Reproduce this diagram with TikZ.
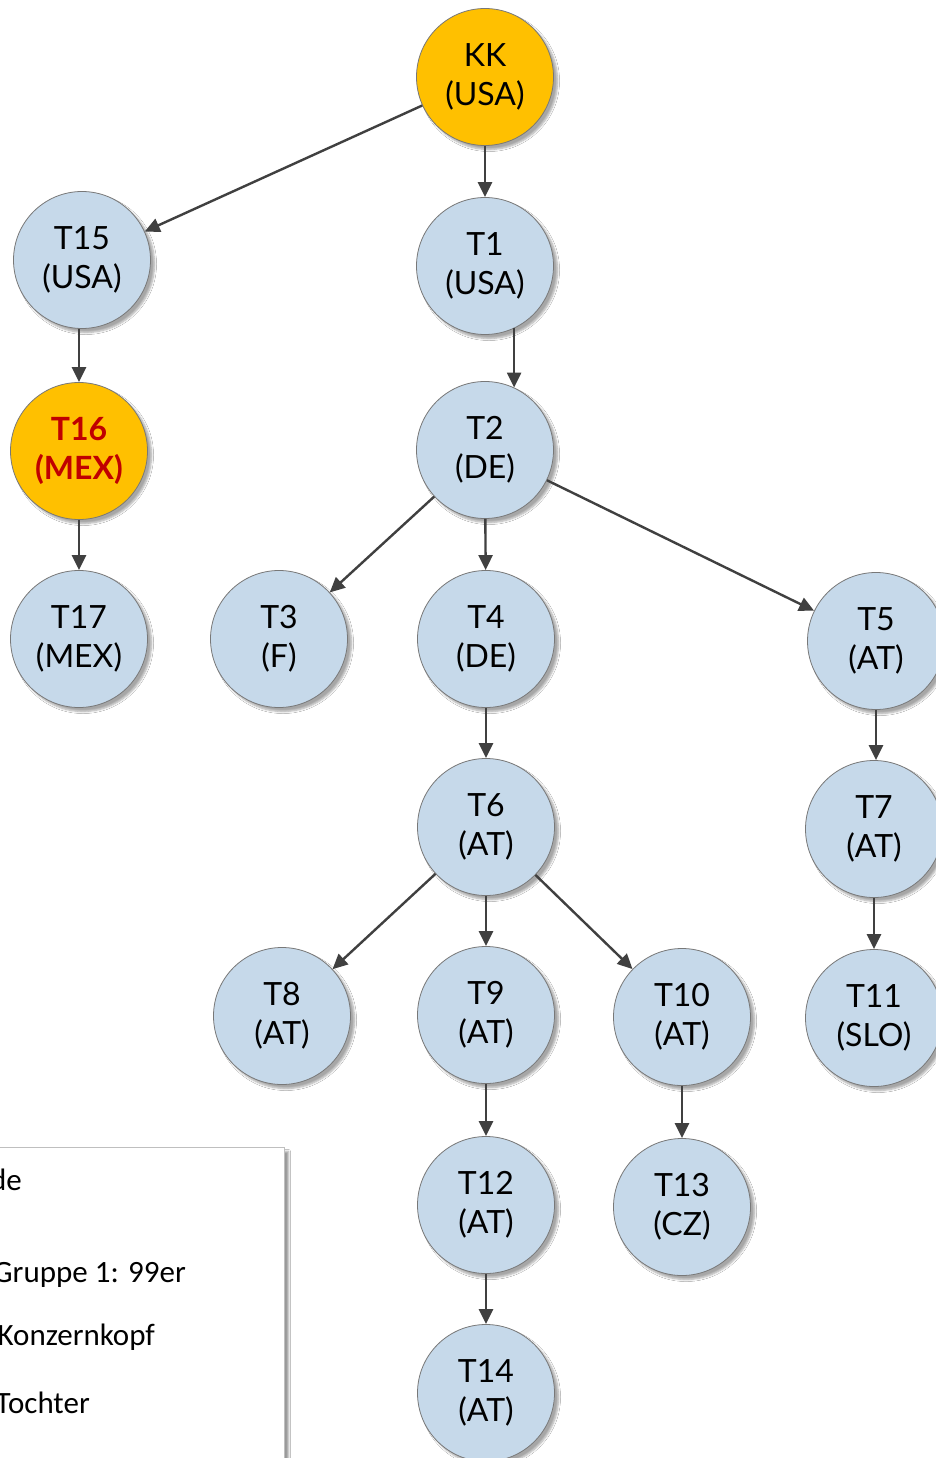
\documentclass[tikz,border=0pt]{standalone}
\usepackage{fontspec}
\setmainfont{Lato}
\newfontfamily\legfont{Carlito}
\usetikzlibrary{arrows.meta,shadows.blur}
\definecolor{nodeblue}{RGB}{198,217,234}
\definecolor{nodeorange}{RGB}{255,192,0}
\definecolor{edgegray}{RGB}{64,64,64}
\definecolor{rimgray}{RGB}{120,120,120}
\definecolor{darkred}{RGB}{192,0,0}
\tikzset{
  co/.style={circle, minimum size=137pt, inner sep=0pt, draw=rimgray, line width=0.8pt,
    fill=nodeblue, align=center, font=\fontsize{32}{39}\selectfont,
    blur shadow={shadow xshift=4pt, shadow yshift=-4pt, shadow blur steps=6, shadow opacity=35}},
  head/.style={co, fill=nodeorange},
  arr/.style={draw=edgegray, line width=2.4pt, -{Triangle[length=15pt,width=14pt]}},
  legtext/.style={anchor=base east, inner sep=0pt, font=\legfont\fontsize{31}{37}\selectfont}
}
\begin{document}
\begin{tikzpicture}[x=1pt,y=-1pt]
\useasboundingbox (0,0) rectangle (936,1458);
\clip (0,0) rectangle (936,1458);
\fill[white] (0,0) rectangle (936,1458);
% legend
\node[draw=black!25, line width=1pt, fill=white, minimum width=310pt, minimum height=330pt,
  inner sep=0pt, anchor=north east,
  blur shadow={shadow xshift=4pt, shadow yshift=-4pt, shadow blur steps=4, shadow opacity=40}]
  (legend) at (285,1147) {};
\node[legtext] (l0) at (22,1190) {Legende};
\node[legtext] (l1) at (186,1282) {Gruppe 1: 99er};
\node[legtext] (l2) at (155,1345) {Konzernkopf};
\node[legtext] (l3) at (90,1413) {Tochter};
% nodes
\node[head] (KK) at (485,77) {KK\\(USA)};
\node[co] (T15) at (82,260) {T15\\(USA)};
\node[co] (T1) at (485,266) {T1\\(USA)};
\node[head, font=\bfseries\fontsize{32}{39}\selectfont, text=darkred] (T16) at (79,451) {T16\\(MEX)};
\node[co] (T2) at (485,450) {T2\\(DE)};
\node[co] (T17) at (79,639) {T17\\(MEX)};
\node[co] (T3) at (279,639) {T3\\(F)};
\node[co] (T4) at (486,639) {T4\\(DE)};
\node[co] (T5) at (876,641) {T5\\(AT)};
\node[co] (T6) at (486,827) {T6\\(AT)};
\node[co] (T7) at (874,829) {T7\\(AT)};
\node[co] (T8) at (282,1016) {T8\\(AT)};
\node[co] (T9) at (486,1015) {T9\\(AT)};
\node[co] (T10) at (682,1017) {T10\\(AT)};
\node[co] (T11) at (874,1018) {T11\\(SLO)};
\node[co] (T12) at (486,1205) {T12\\(AT)};
\node[co] (T13) at (682,1207) {T13\\(CZ)};
\node[co] (T14) at (486,1393) {T14\\(AT)};
% edges
\draw[arr] (KK) -- (T15);
\draw[arr] (KK) -- (T1);
\draw[arr] (T15.south -| T16.north) -- (T16.north);
\draw[arr] (T1.-65) -- (T2.65);
\draw[arr] (T16) -- (T17);
\draw[arr] (T2) -- (T3);
\draw[arr] (T2) -- (T4);
\draw[arr] (T2) -- (T5);
\draw[arr] (T4) -- (T6);
\draw[arr] (T5.south) -- (T5.south |- T7.north);
\draw[arr] (T6) -- (T8);
\draw[arr] (T6) -- (T9);
\draw[arr] (T6) -- (T10);
\draw[arr] (T7) -- (T11);
\draw[arr] (T9) -- (T12);
\draw[arr] (T10) -- (T13);
\draw[arr] (T12) -- (T14);
\end{tikzpicture}
\end{document}
